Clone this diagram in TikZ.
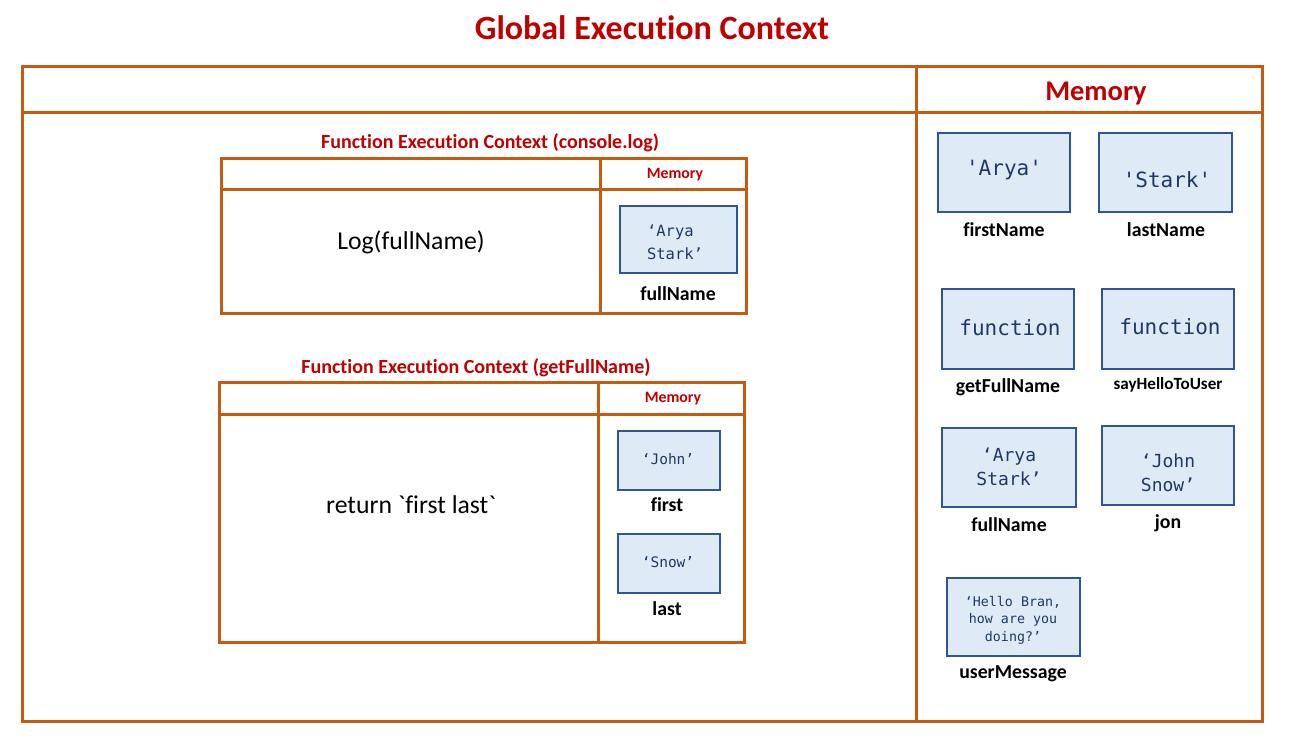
\documentclass[tikz,border=0pt]{standalone}
\usepackage{fontspec}
\setmainfont{Carlito}[Ligatures={NoCommon}]
\newfontfamily\plainfont{Carlito}[Ligatures={NoCommon}]
\newfontfamily\codefont{DejaVu Sans Mono}
\definecolor{frameorange}{HTML}{C55A11}
\definecolor{titlered}{HTML}{C00000}
\definecolor{boxblue}{HTML}{2F5597}
\definecolor{boxfill}{HTML}{DEEBF7}
\definecolor{codenavy}{HTML}{1F3864}
\begin{document}
\begin{tikzpicture}[x=1pt,y=-1pt,
  frame/.style={draw=frameorange, line width=3pt},
  valbox/.style={draw=boxblue, fill=boxfill, line width=2pt, inner sep=0pt},
  val/.style={text=codenavy, align=center, inner sep=0pt},
  lbl/.style={text=black, inner sep=0pt},
  ttl/.style={text=titlered, inner sep=0pt},
  txt/.style={text=black, inner sep=0pt}]
\fill[white] (0,0) rectangle (1307,747);
\useasboundingbox (0,0) rectangle (1307,747);

% title
\node[ttl, font=\bfseries\fontsize{34}{40}\selectfont] (title) at (652,28) {Global Execution Context};

% global frame
\draw[frame] (22,66) rectangle (1262,721);
\draw[frame] (22,112) -- (1262,112);
\draw[frame] (916,66) -- (916,721);
\node[ttl, font=\bfseries\fontsize{28.5}{32}\selectfont] (gmem) at (1096,93) {Memory};

% FEC console.log
\node[ttl, font=\bfseries\fontsize{20}{24}\selectfont] (fec1t) at (490,143) {Function Execution Context (console.log)};
\draw[frame] (221,158) rectangle (746,313);
\draw[frame] (221,189) -- (746,189);
\draw[frame] (600,158) -- (600,313);
\node[ttl, font=\bfseries\fontsize{15.8}{18}\selectfont] (m1) at (675,175) {Memory};
\node[txt, font=\fontsize{25.7}{30}\selectfont] (log) at (411,242) {Log(fullName)};
\node[valbox, minimum width=117pt, minimum height=67pt] (b1) at (678.5,239.5) {};
\node[val, align=left, font=\codefont\fontsize{15.5}{23}\selectfont] (v1) at (675,242) {‘Arya\\Stark’};
\node[lbl, font=\bfseries\fontsize{19.8}{23}\selectfont] (l1) at (678,294) {fullName};

% FEC getFullName
\node[ttl, font=\bfseries\fontsize{20}{24}\selectfont] (fec2t) at (476,368) {Function Execution Context (getFullName)};
\draw[frame] (219,382) rectangle (744,642);
\draw[frame] (219,414) -- (744,414);
\draw[frame] (598,382) -- (598,642);
\node[ttl, font=\bfseries\fontsize{15.8}{18}\selectfont] (m2) at (673,399) {Memory};
\node[txt, font=\plainfont\fontsize{25.7}{30}\selectfont] (ret) at (411,505) {return `first last`};
\node[valbox, minimum width=102pt, minimum height=59pt] (b2) at (669,460.5) {};
\node[val, font=\codefont\fontsize{14.5}{18}\selectfont] (v2) at (668,459) {‘John’};
\node[lbl, font=\bfseries\fontsize{19.8}{23}\selectfont] (l2) at (667,505) {first};
\node[valbox, minimum width=102pt, minimum height=59pt] (b3) at (669,563.5) {};
\node[val, font=\codefont\fontsize{14.5}{18}\selectfont] (v3) at (668,562) {‘Snow’};
\node[lbl, font=\bfseries\fontsize{19.8}{23}\selectfont] (l3) at (667,609) {last};

% global memory boxes
\node[valbox, minimum width=132pt, minimum height=79pt] (g1) at (1004,172.5) {};
\node[val, font=\codefont\fontsize{21}{24}\selectfont] (gv1) at (1004,170) {'Arya'};
\node[lbl, font=\bfseries\fontsize{19.8}{23}\selectfont] (gl1) at (1004,230) {firstName};

\node[valbox, minimum width=133pt, minimum height=79pt] (g2) at (1165.5,172.5) {};
\node[val, font=\codefont\fontsize{21}{24}\selectfont] (gv2) at (1167,180) {'Stark'};
\node[lbl, font=\bfseries\fontsize{19.8}{23}\selectfont] (gl2) at (1166,230) {lastName};

\node[valbox, minimum width=132pt, minimum height=80pt] (g3) at (1008,329) {};
\node[val, font=\codefont\fontsize{21}{24}\selectfont] (gv3) at (1010,328) {function};
\node[lbl, font=\bfseries\fontsize{19.8}{23}\selectfont] (gl3) at (1008,387) {getFullName};

\node[valbox, minimum width=132pt, minimum height=80pt] (g4) at (1168,329) {};
\node[val, font=\codefont\fontsize{21}{24}\selectfont] (gv4) at (1170,327) {function};
\node[lbl, font=\bfseries\fontsize{17.1}{20}\selectfont] (gl4) at (1168,385) {sayHelloToUser};

\node[valbox, minimum width=134pt, minimum height=79pt] (g5) at (1009,467.5) {};
\node[val, font=\codefont\fontsize{18}{24}\selectfont] (gv5) at (1009,467) {‘Arya\\Stark’};
\node[lbl, font=\bfseries\fontsize{19.8}{23}\selectfont] (gl5) at (1009,525) {fullName};

\node[valbox, minimum width=132pt, minimum height=79pt] (g6) at (1168,465.5) {};
\node[val, font=\codefont\fontsize{18}{24}\selectfont] (gv6) at (1168,473) {‘John\\Snow’};
\node[lbl, font=\bfseries\fontsize{19.8}{23}\selectfont] (gl6) at (1168,523) {jon};

\node[valbox, minimum width=133pt, minimum height=78pt] (g7) at (1013.5,617) {};
\node[val, font=\codefont\fontsize{13.3}{17.5}\selectfont] (gv7) at (1013,620) {‘Hello Bran,\\how are you\\doing?’};
\node[lbl, font=\bfseries\fontsize{19.8}{23}\selectfont] (gl7) at (1013,674) {userMessage};
\end{tikzpicture}
\end{document}
